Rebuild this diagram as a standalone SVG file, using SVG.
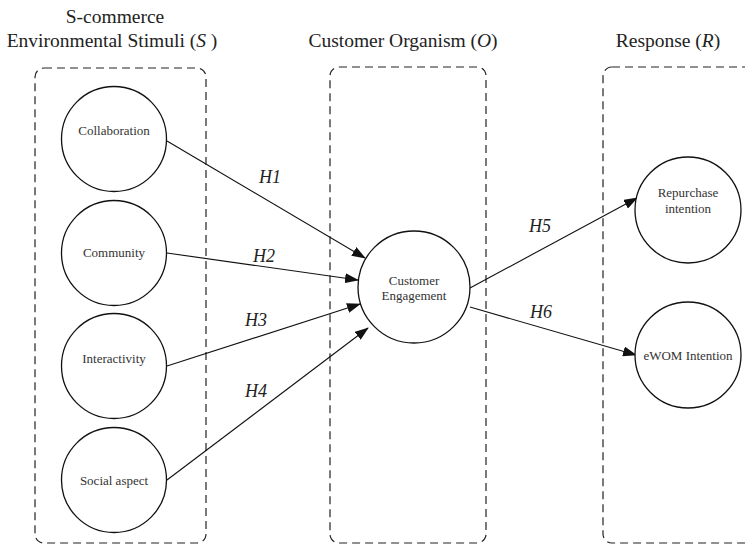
<svg xmlns="http://www.w3.org/2000/svg" width="745" height="545" viewBox="0 0 745 545">
<style>
.box{fill:none;stroke:#222;stroke-width:1.2;stroke-dasharray:8 5}
.node{fill:#fff;stroke:#111;stroke-width:1.3}
text{font-family:'Liberation Serif','Times New Roman',serif}
.lbl{font-size:13px;fill:#333;text-anchor:middle}
.title{font-size:19.5px;fill:#222;text-anchor:middle}
.h{font-size:18px;font-style:italic;fill:#222;text-anchor:middle}
.edge{stroke:#111;stroke-width:1.1;fill:none;marker-end:url(#arr)}
</style>
<defs>
<marker id="arr" markerWidth="14" markerHeight="10" refX="13" refY="5" orient="auto" markerUnits="userSpaceOnUse">
<path d="M0,0 L14,5 L0,10 Z" fill="#111"/>
</marker>
</defs>
<rect width="745" height="545" fill="#fff"/>
<g id="titles">
<text class="title" x="115" y="23">S-commerce</text>
<text class="title" x="112" y="47">Environmental Stimuli (<tspan font-style="italic">S</tspan> )</text>
<text class="title" x="403" y="47">Customer Organism (<tspan font-style="italic">O</tspan>)</text>
<text class="title" x="668" y="47">Response (<tspan font-style="italic">R</tspan>)</text>
</g>
<g id="boxes">
<rect class="box" x="35" y="68" width="171" height="475" rx="9"/>
<rect class="box" x="330" y="67" width="156" height="476" rx="9"/>
<rect class="box" x="603" y="67" width="160" height="476" rx="9"/>
</g>
<g id="connectors">
<line class="edge" x1="167" y1="141" x2="365" y2="258"/>
<line class="edge" x1="167" y1="253" x2="358" y2="280"/>
<line class="edge" x1="167" y1="366" x2="360" y2="304"/>
<line class="edge" x1="167" y1="480" x2="368" y2="328"/>
<line class="edge" x1="470" y1="288" x2="637" y2="198"/>
<line class="edge" x1="470" y1="307" x2="636" y2="355"/>
<text class="h" x="270" y="183">H1</text>
<text class="h" x="264" y="262">H2</text>
<text class="h" x="256" y="326">H3</text>
<text class="h" x="256" y="397">H4</text>
<text class="h" x="540" y="232">H5</text>
<text class="h" x="541" y="318">H6</text>
</g>
<g id="collaboration"><circle class="node" cx="114" cy="139" r="52.5"/><text class="lbl" x="114" y="135">Collaboration</text></g>
<g id="community"><circle class="node" cx="114" cy="253" r="52.5"/><text class="lbl" x="114" y="257">Community</text></g>
<g id="interactivity"><circle class="node" cx="114" cy="366" r="52.5"/><text class="lbl" x="114" y="363">Interactivity</text></g>
<g id="social"><circle class="node" cx="114" cy="480" r="52.5"/><text class="lbl" x="114" y="485">Social aspect</text></g>
<g id="engagement"><circle class="node" cx="414" cy="287" r="56"/><text class="lbl" x="414" y="285">Customer</text><text class="lbl" x="414" y="300">Engagement</text></g>
<g id="repurchase"><circle class="node" cx="688" cy="210" r="53"/><text class="lbl" x="688" y="197">Repurchase</text><text class="lbl" x="688" y="213">intention</text></g>
<g id="ewom"><circle class="node" cx="688" cy="355" r="53"/><text class="lbl" x="688" y="360">eWOM Intention</text></g>
</svg>
